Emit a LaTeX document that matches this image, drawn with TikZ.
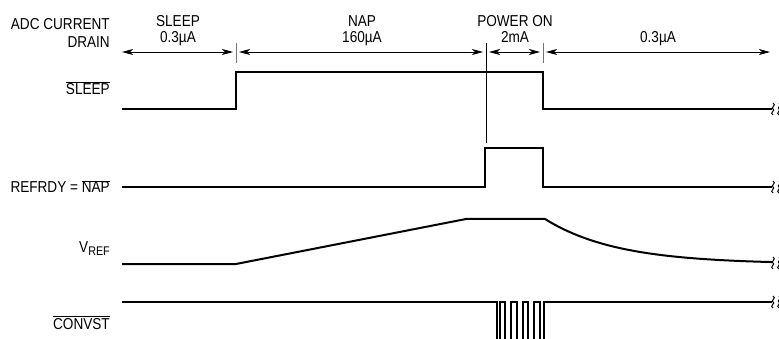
\documentclass[tikz,border=0pt]{standalone}
\usepackage{fontspec}
\setmainfont{Liberation Sans}[FakeStretch=0.86]
\usetikzlibrary{arrows.meta}
\newcommand{\barred}[1]{$\overline{\mbox{#1}}$}
\newcommand{\cutmark}[2]{\draw[line width=1pt] (#1,{#2-6}) .. controls (#1+4,{#2-4}) and (#1-3,{#2-1}) .. (#1,#2) .. controls (#1+3,{#2+1}) and (#1-4,{#2+4}) .. (#1,{#2+6});}
\begin{document}
\begin{tikzpicture}[x=1pt, y=-1pt,
  lbl/.style={inner sep=0pt, font=\fontsize{15.8}{18}\selectfont},
  sig/.style={line width=2pt, line join=miter},
  dim/.style={{Stealth[length=11pt,width=6pt,inset=3pt]}-{Stealth[length=11pt,width=6pt,inset=3pt]}, line width=0.9pt},
  tick/.style={line width=1pt, black!55}]
\clip (0,0) rectangle (779,339);
% left labels
\node[lbl, anchor=base east] (adc) at (110,30) {ADC CURRENT};
\node[lbl, anchor=base east] (drain) at (110,48) {DRAIN};
\node[lbl, anchor=base east] (sleepn) at (110,95) {\barred{SLEEP}};
\node[lbl, anchor=base east] (refrdy) at (110,193) {REFRDY = \barred{NAP}};
\node[lbl, anchor=base east] (vref) at (110,252) {V\raisebox{-3pt}{\fontsize{12.5}{14}\selectfont REF}};
\node[lbl, anchor=base east] (convst) at (110,329) {\barred{CONVST}};
% mode labels
\node[lbl, anchor=base] (sleep) at (178,27) {SLEEP};
\node[lbl, anchor=base] (sleepi) at (178,43) {0.3µA};
\node[lbl, anchor=base] (nap) at (362,27) {NAP};
\node[lbl, anchor=base] (napi) at (362,43) {160µA};
\node[lbl, anchor=base] (pwr) at (515,27) {POWER ON};
\node[lbl, anchor=base] (pwri) at (515,43) {2mA};
\node[lbl, anchor=base] (offi) at (658,43) {0.3µA};
% current drain intervals
\coordinate (d0) at (122,52);
\coordinate (d1) at (233,52);
\coordinate (d2) at (239,52);
\coordinate (d3) at (483,52);
\coordinate (d4) at (489,52);
\coordinate (d5) at (540,52);
\coordinate (d6) at (546,52);
\coordinate (d7) at (770,52);
\draw[dim] (d0) -- (d1);
\draw[dim] (d2) -- (d3);
\draw[dim] (d4) -- (d5);
\draw[dim] (d6) -- (d7);
\draw[tick] (236,43) -- (236,63);
\draw[tick] (543,43) -- (543,63);
\draw[line width=1pt] (486,43) -- (486,143);
% waveforms
\draw[sig] (122,109) -- (236,109) -- (236,72) -- (543,72) -- (543,109) -- (772,109);
\draw[sig] (122,187) -- (485,187) -- (485,148) -- (543,148) -- (543,187) -- (772,187);
\draw[sig, line join=round] (122,264) -- (236,264) -- (466,219) -- (545,219)
  -- plot[domain=545:772, samples=50] (\x, {264-45*exp(-(\x-545)/72)});
\draw[sig] (122,302) -- (497,302) -- (497,345) -- (500,345) -- (500,302) -- (505,302)
  -- (505,345) -- (511,345) -- (511,302) -- (516.5,302) -- (516.5,345) -- (522.5,345)
  -- (522.5,302) -- (528,302) -- (528,345) -- (534,345) -- (534,302) -- (539.5,302)
  -- (539.5,345) -- (544,345) -- (544,302) -- (772,302);
% breaks
\foreach \yy in {109,187,263,302} {
  \cutmark{773}{\yy}
  \cutmark{779}{\yy}
}
\end{tikzpicture}
\end{document}
